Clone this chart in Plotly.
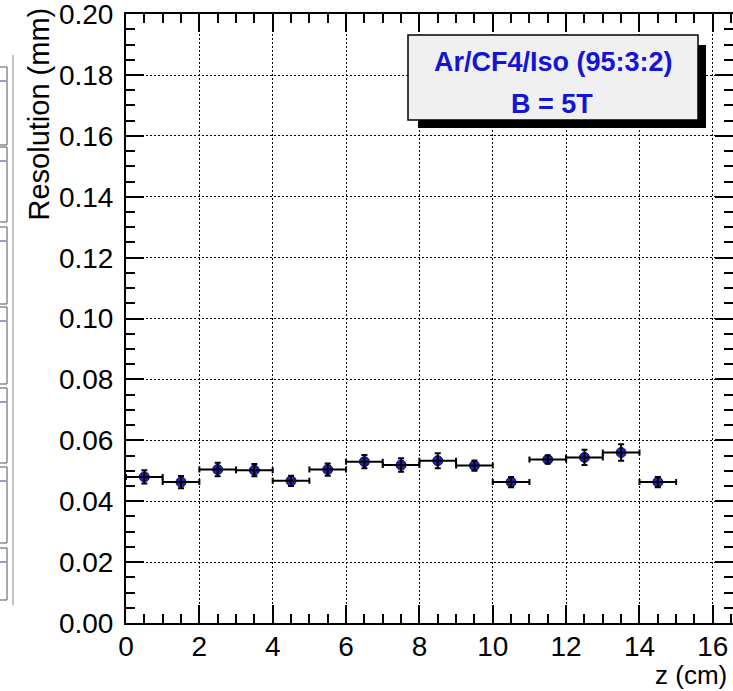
import plotly.graph_objects as go

# ---------------- data ----------------
z_centers = [0.5, 1.5, 2.5, 3.5, 4.5, 5.5, 6.5, 7.5, 8.5, 9.5, 10.5, 11.5, 12.5, 13.5, 14.5]
z_halfwidth = [0.5, 0.5, 0.5, 0.5, 0.5, 0.5, 0.5, 0.5, 0.5, 0.5, 0.5, 0.5, 0.5, 0.5, 0.5]
resolution = [0.0480, 0.0463, 0.0504, 0.0502, 0.0467, 0.0504, 0.0530, 0.0519,
              0.0533, 0.0517, 0.0463, 0.0537, 0.0544, 0.0560, 0.0463]
res_err = [0.0022, 0.0020, 0.0022, 0.0020, 0.0017, 0.0020, 0.0022, 0.0022,
           0.0025, 0.0017, 0.0017, 0.0013, 0.0025, 0.0027, 0.0017]

x_ticks = [0, 2, 4, 6, 8, 10, 12, 14, 16]
y_ticks = [0.00, 0.02, 0.04, 0.06, 0.08, 0.10, 0.12, 0.14, 0.16, 0.18, 0.20]
y_ticklabels = ["0.00", "0.02", "0.04", "0.06", "0.08", "0.10",
                "0.12", "0.14", "0.16", "0.18", "0.20"]

x_title = "z (cm)"
y_title = "Resolution (mm)"
box_lines = ["Ar/CF4/Iso (95:3:2)", "B = 5T"]

# ---------------- geometry helpers (pixel -> paper) ----------------
W, H = 733, 691
L, R, T, B = 126, 733, 14, 623


def px(p):
    return (p - L) / (R - L)


def py(p):
    return (B - p) / (B - T)


FONT = "Liberation Sans, Arial, Helvetica, sans-serif"

fig = go.Figure()

# markers (drawn first so error bars sit on top, like ROOT)
fig.add_trace(go.Scatter(
    x=z_centers, y=resolution, mode="markers",
    marker=dict(symbol="circle", size=10, color="#2222bb",
                line=dict(color="#101070", width=1)),
    showlegend=False, hoverinfo="skip"))

fig.add_trace(go.Scatter(
    x=z_centers, y=resolution, mode="markers",
    marker=dict(size=10, opacity=0),
    error_y=dict(type="data", array=res_err, visible=True,
                 color="black", thickness=2, width=3),
    error_x=dict(type="data", array=z_halfwidth, visible=True,
                 color="black", thickness=2, width=3),
    showlegend=False, hoverinfo="skip"))

axis_common = dict(
    showline=True, linecolor="black", linewidth=2, mirror="ticks",
    ticks="inside", tickcolor="black", tickwidth=2,
    showgrid=True, gridcolor="black", gridwidth=1.3, griddash="2px,2px",
    zeroline=False, automargin=False, ticklabeloverflow="allow",
    tickfont=dict(family=FONT, size=28, color="black"),
)

fig.update_xaxes(
    range=[0, 16.55], tickmode="array", tickvals=x_ticks,
    ticktext=[str(v) for v in x_ticks], ticklen=18,
    minor=dict(dtick=0.5, tick0=0, ticklen=9, ticks="inside", tickcolor="black",
               tickwidth=2, showgrid=False),
    ticklabelstandoff=-3,
    **axis_common)

fig.update_yaxes(
    range=[0, 0.20005], tickmode="array", tickvals=y_ticks, ticktext=y_ticklabels,
    ticklen=18,
    minor=dict(dtick=0.005, tick0=0, ticklen=9, ticks="inside", tickcolor="black",
               tickwidth=2, showgrid=False),
    ticklabelstandoff=5,
    **axis_common)

shapes = []
annotations = []

# text box with shadow
bx0, bx1, by0, by1 = 408, 698, 35, 120
shadow = 8
shapes.append(dict(type="rect", xref="paper", yref="paper",
                   x0=px(bx0 + shadow + 2), x1=px(bx1 + shadow),
                   y0=py(by1 + shadow), y1=py(by0 + shadow + 2),
                   fillcolor="black", line=dict(width=0), layer="above"))
shapes.append(dict(type="rect", xref="paper", yref="paper",
                   x0=px(bx0), x1=px(bx1), y0=py(by1), y1=py(by0),
                   fillcolor="#f0f0f0", line=dict(color="black", width=1.5),
                   layer="above"))
annotations.append(dict(text="<b>%s</b>" % box_lines[0], xref="paper", yref="paper",
                        x=px(553), y=py(62), xanchor="center", yanchor="middle",
                        showarrow=False,
                        font=dict(family=FONT, size=27, color="#1414d7")))
annotations.append(dict(text="<b>%s</b>" % box_lines[1], xref="paper", yref="paper",
                        x=px(552), y=py(104), xanchor="center", yanchor="middle",
                        showarrow=False,
                        font=dict(family=FONT, size=27, color="#1414d7")))

# axis titles (ROOT style: right/top aligned)
annotations.append(dict(text=x_title, xref="paper", yref="paper",
                        x=px(729), y=py(675), xanchor="right", yanchor="middle",
                        showarrow=False,
                        font=dict(family=FONT, size=26, color="black")))
annotations.append(dict(text=y_title, xref="paper", yref="paper",
                        x=px(38), y=py(6), xanchor="center", yanchor="top",
                        textangle=-90, showarrow=False,
                        font=dict(family=FONT, size=29, color="black")))

# partial neighbouring panels at the far left edge
panel_tops = [67, 147, 227, 307, 388, 467, 548]
panel_bots = [145, 222, 304, 384, 463, 543, 600]
for t, b in zip(panel_tops, panel_bots):
    shapes.append(dict(type="rect", xref="paper", yref="paper",
                       x0=px(-4), x1=px(7), y0=py(b), y1=py(t),
                       fillcolor="white", line=dict(color="#555555", width=1)))
    shapes.append(dict(type="line", xref="paper", yref="paper",
                       x0=px(0), x1=px(6), y0=py(t + 14), y1=py(t + 14),
                       line=dict(color="#3030c0", width=1)))
shapes.append(dict(type="line", xref="paper", yref="paper",
                   x0=px(13), x1=px(13), y0=py(605), y1=py(55),
                   line=dict(color="#b0b0b0", width=1.5)))

fig.update_layout(
    width=W, height=H,
    margin=dict(l=L, r=W - R, t=T, b=H - B),
    paper_bgcolor="white", plot_bgcolor="white",
    shapes=shapes, annotations=annotations,
    showlegend=False,
)

fig.write_html("out.html", config={"displayModeBar": False},
               post_script="document.body.style.margin='0';document.body.style.padding='0';")
